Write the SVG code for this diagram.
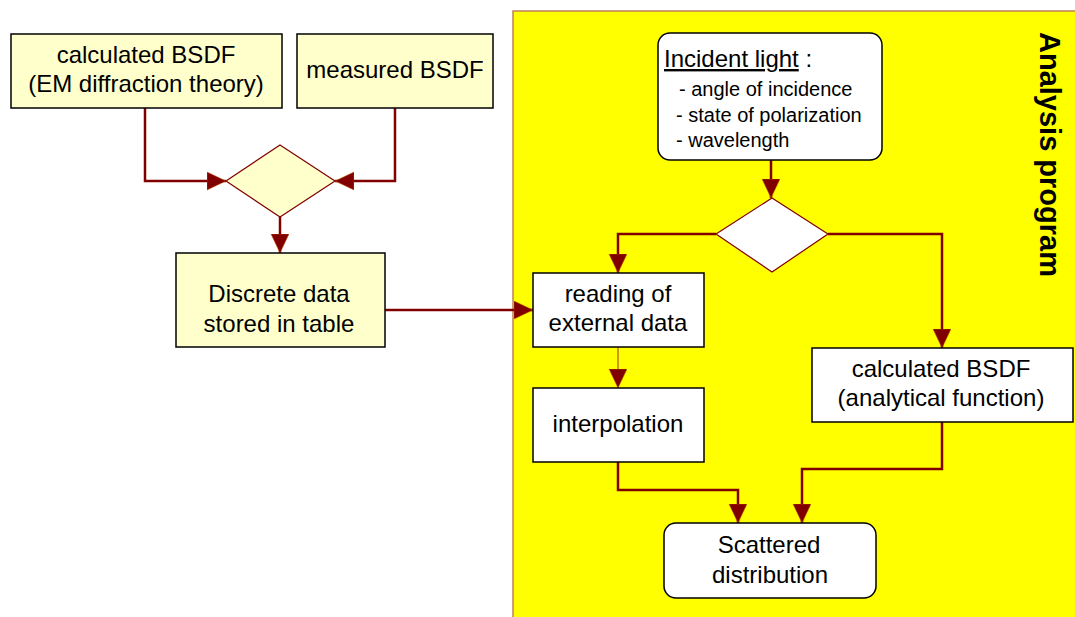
<svg xmlns="http://www.w3.org/2000/svg" width="1075" height="617" viewBox="0 0 1075 617">
<style>
.t{font-family:"Liberation Sans",Arial,sans-serif;font-size:24px;fill:#000;text-anchor:middle}
.s{font-family:"Liberation Sans",Arial,sans-serif;font-size:20px;fill:#000}
.ybox{fill:#ffffcc;stroke:#000;stroke-width:1.5}
.wbox{fill:#fff;stroke:#000;stroke-width:1.5}
.dia{stroke:#800000;stroke-width:1.2}
.c{fill:none;stroke:#800000;stroke-width:2.5;marker-end:url(#ah)}
.c2{fill:none;stroke:#c07800;stroke-width:1.5;marker-end:url(#ah)}
</style>
<defs>
<marker id="ah" markerUnits="userSpaceOnUse" markerWidth="20" markerHeight="20" refX="19" refY="9" orient="auto">
<path d="M0,0 L19,9 L0,18 z" fill="#800000" stroke="#c05a00" stroke-width="0.5"/>
</marker>
</defs>
<rect width="1075" height="617" fill="#fff"/>
<g id="panel">
<rect x="513" y="11" width="580" height="620" fill="#ffff00" stroke="#c0805a" stroke-width="1.5"/>
<text x="1040" y="32" transform="rotate(90 1040 32)" style="font-family:'Liberation Sans',Arial,sans-serif;font-size:29px;font-weight:bold">Analysis program</text>
</g>
<g id="connectors">
<path class="c" d="M145,108 V181 H226"/>
<path class="c" d="M395,108 V181 H335"/>
<path class="c" d="M280,217 V253"/>
<path class="c" d="M385,310 H533"/>
<path class="c" d="M771,160 V198"/>
<path class="c" d="M716,234 H618 V273"/>
<path class="c" d="M828,234 H942 V348"/>
<path class="c2" d="M618,347 V388"/>
<path class="c" d="M618,462 V490 H738 V523"/>
<path class="c" d="M942,422 V469 H802 V523"/>
</g>
<g id="calc-em">
<rect class="ybox" x="11" y="34" width="271" height="74"/>
<text class="t" x="146" y="63">calculated BSDF</text>
<text class="t" x="146" y="92">(EM diffraction theory)</text>
</g>
<g id="measured">
<rect class="ybox" x="297" y="34" width="196" height="74"/>
<text class="t" x="395" y="78">measured BSDF</text>
</g>
<g id="merge">
<polygon class="dia" points="280,145 335,181 280,217 226,181" fill="#ffffcc"/>
</g>
<g id="discrete">
<rect class="ybox" x="176" y="253" width="209" height="94"/>
<text class="t" x="279" y="302">Discrete data</text>
<text class="t" x="279" y="332">stored in table</text>
</g>
<g id="incident">
<rect class="wbox" x="658" y="33" width="224" height="127" rx="12"/>
<text x="664" y="67" style="font-family:'Liberation Sans',Arial,sans-serif;font-size:24px"><tspan text-decoration="underline">Incident light</tspan> :</text>
<text class="s" x="679" y="96">- angle of incidence</text>
<text class="s" x="676" y="122">- state of polarization</text>
<text class="s" x="676" y="147">- wavelength</text>
</g>
<g id="choice">
<polygon class="dia" points="772,198 828,234 772,272 716,234" fill="#fff"/>
</g>
<g id="reading">
<rect class="wbox" x="533" y="273" width="171" height="74"/>
<text class="t" x="618" y="302">reading of</text>
<text class="t" x="618" y="331">external data</text>
</g>
<g id="interp">
<rect class="wbox" x="533" y="388" width="171" height="74"/>
<text class="t" x="618" y="432">interpolation</text>
</g>
<g id="calc-analytic">
<rect class="wbox" x="812" y="348" width="261" height="74"/>
<text class="t" x="941" y="377">calculated BSDF</text>
<text class="t" x="941" y="406">(analytical function)</text>
</g>
<g id="scattered">
<rect class="wbox" x="664" y="523" width="212" height="75" rx="12"/>
<text class="t" x="769" y="553">Scattered</text>
<text class="t" x="770" y="583">distribution</text>
</g>
</svg>
